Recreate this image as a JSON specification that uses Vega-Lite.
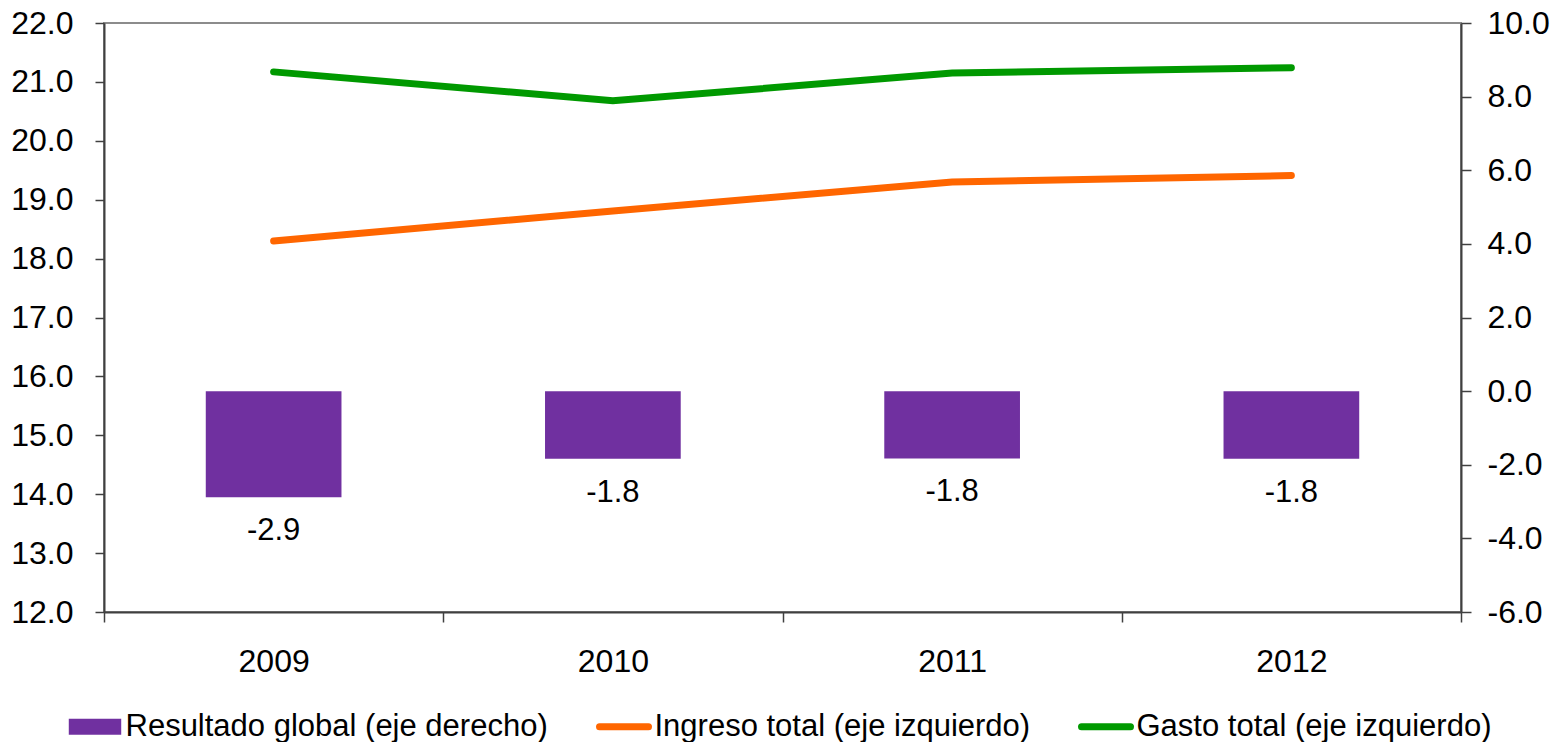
{
  "$schema": "https://vega.github.io/schema/vega-lite/v6.json",
  "width": 1357,
  "height": 589,
  "autosize": {"type": "none"},
  "padding": {"left": 104, "top": 23, "right": 105, "bottom": 130},
  "background": "white",
  "config": {
    "font": "Liberation Sans",
    "view": {"stroke": "#8c8c8c", "strokeWidth": 2},
    "axis": {
      "labelFont": "Liberation Sans",
      "labelFontSize": 32,
      "labelColor": "#000000",
      "domainColor": "#404040",
      "domainWidth": 2,
      "tickColor": "#404040",
      "tickWidth": 1.5,
      "grid": false,
      "title": null
    }
  },
  "data": {
    "values": [
      {"year": "2009", "serie": "Resultado global (eje derecho)", "value": -2.88, "label": "-2.9"},
      {"year": "2010", "serie": "Resultado global (eje derecho)", "value": -1.84, "label": "-1.8"},
      {"year": "2011", "serie": "Resultado global (eje derecho)", "value": -1.83, "label": "-1.8"},
      {"year": "2012", "serie": "Resultado global (eje derecho)", "value": -1.84, "label": "-1.8"},
      {"year": "2009", "serie": "Ingreso total (eje izquierdo)", "value": 18.30},
      {"year": "2010", "serie": "Ingreso total (eje izquierdo)", "value": 18.81},
      {"year": "2011", "serie": "Ingreso total (eje izquierdo)", "value": 19.30},
      {"year": "2012", "serie": "Ingreso total (eje izquierdo)", "value": 19.41},
      {"year": "2009", "serie": "Gasto total (eje izquierdo)", "value": 21.17},
      {"year": "2010", "serie": "Gasto total (eje izquierdo)", "value": 20.68},
      {"year": "2011", "serie": "Gasto total (eje izquierdo)", "value": 21.15},
      {"year": "2012", "serie": "Gasto total (eje izquierdo)", "value": 21.24}
    ]
  },
  "encoding": {
    "x": {
      "field": "year",
      "type": "nominal",
      "scale": {"paddingInner": 0, "paddingOuter": 0},
      "axis": {
        "labelAngle": 0,
        "tickBand": "extent",
        "tickSize": 10,
        "labelPadding": 24,
        "labelBaseline": "top"
      }
    }
  },
  "layer": [
    {
      "transform": [{"filter": "datum.serie === 'Resultado global (eje derecho)'"}],
      "encoding": {
        "y": {
          "field": "value",
          "type": "quantitative",
          "scale": {"domain": [-6, 10], "nice": false},
          "axis": {
            "orient": "right",
            "values": [-6, -4, -2, 0, 2, 4, 6, 8, 10],
            "labelExpr": "replace(format(datum.value, '.1f'), '\u2212', '-')",
            "tickSize": 10,
            "labelPadding": 16
          }
        }
      },
      "layer": [
        {
          "mark": {"type": "bar", "width": {"band": 0.4}},
          "encoding": {
            "color": {
              "field": "serie",
              "type": "nominal",
              "scale": {
                "domain": ["Resultado global (eje derecho)", "Ingreso total (eje izquierdo)", "Gasto total (eje izquierdo)"],
                "range": ["#7030A0", "#FF6600", "#009900"]
              },
              "legend": {
                "orient": "none",
                "legendX": -24.5,
                "legendY": 688,
                "direction": "horizontal",
                "title": null,
                "padding": 0,
                "symbolSize": 2401,
                "labelFontSize": 31,
                "labelFont": "Liberation Sans",
                "labelColor": "#000000",
                "labelLimit": 1000,
                "labelOffset": 15,
                "columnPadding": 37,
                "encode": {
                  "symbols": {
                    "update": {
                      "shape": {"signal": "datum.value === 'Resultado global (eje derecho)' ? 'M-1.07,-0.33H1.07V0.33H-1.07Z' : 'M-1,0H1'"},
                      "fill": {"signal": "datum.value === 'Resultado global (eje derecho)' ? scale('color', datum.value) : 'transparent'"},
                      "stroke": {"signal": "scale('color', datum.value)"},
                      "strokeWidth": {"signal": "datum.value === 'Resultado global (eje derecho)' ? 0 : 7"},
                      "strokeCap": {"value": "round"},
                      "opacity": {"value": 1},
                      "fillOpacity": {"value": 1}
                    }
                  }
                }
              }
            }
          }
        },
        {
          "mark": {"type": "text", "dy": 43, "baseline": "alphabetic", "fontSize": 31, "font": "Liberation Sans", "color": "#000000"},
          "encoding": {
            "text": {"field": "label", "type": "nominal"}
          }
        }
      ]
    },
    {
      "transform": [{"filter": "datum.serie !== 'Resultado global (eje derecho)'"}],
      "mark": {"type": "line", "strokeWidth": 7, "strokeCap": "round"},
      "encoding": {
        "y": {
          "field": "value",
          "type": "quantitative",
          "scale": {"domain": [12, 22], "nice": false, "zero": false},
          "axis": {
            "orient": "left",
            "values": [12, 13, 14, 15, 16, 17, 18, 19, 20, 21, 22],
            "format": ".1f",
            "tickSize": 9,
            "labelPadding": 22
          }
        },
        "color": {"field": "serie", "type": "nominal"}
      }
    }
  ],
  "resolve": {"scale": {"y": "independent"}}
}
